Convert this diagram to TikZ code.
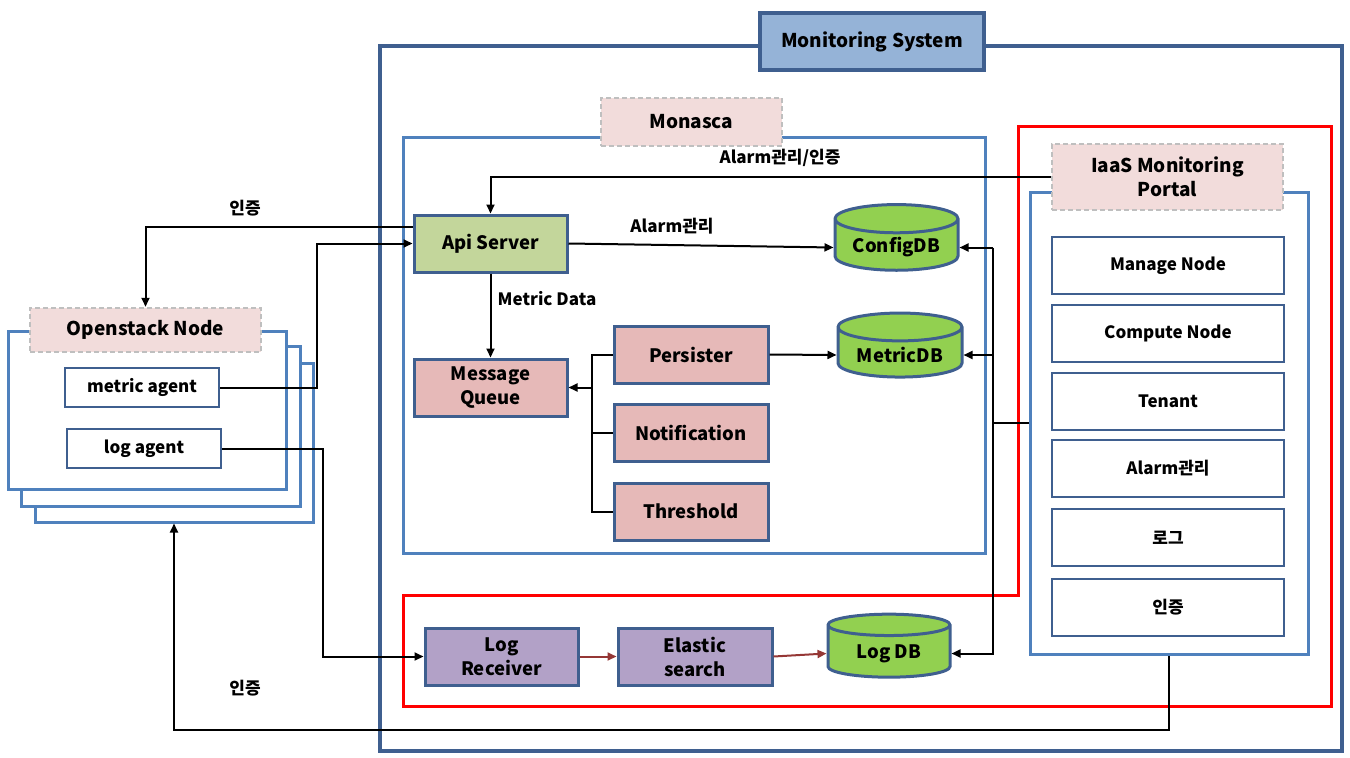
\documentclass[tikz,border=0pt]{standalone}
\usepackage{fontspec}
\setmainfont{Noto Sans CJK KR}
\usetikzlibrary{shapes.geometric,arrows.meta}

\definecolor{frame}{HTML}{3F5F8F}
\definecolor{panel}{HTML}{4F81BD}
\definecolor{titlefill}{HTML}{95B3D7}
\definecolor{tagfill}{HTML}{F2DCDB}
\definecolor{tagline}{HTML}{BFBFBF}
\definecolor{apifill}{HTML}{C3D69B}
\definecolor{mqfill}{HTML}{E6B9B8}
\definecolor{logfill}{HTML}{B2A1C7}
\definecolor{dbfill}{HTML}{92D050}
\definecolor{logarrow}{HTML}{953735}

\newcommand{\bigtxt}{\fontsize{19}{22}\selectfont\bfseries}
\newcommand{\midtxt}{\fontsize{18.5}{21}\selectfont\bfseries}
\newcommand{\smalltxt}{\fontsize{17}{20}\selectfont\bfseries}

\begin{document}
\begin{tikzpicture}[x=1pt,y=-1pt,
    panelbox/.style={draw=panel, line width=3pt, inner sep=0pt},
    tag/.style={draw=tagline, dash pattern=on 5pt off 3pt, line width=2.5pt, fill=tagfill, align=center, font=\bigtxt},
    comp/.style={draw=frame, line width=3pt, minimum width=153pt, minimum height=57pt, align=center, font=\midtxt},
    item/.style={draw=frame, line width=2.2pt, fill=white, minimum width=232pt, minimum height=57pt, font=\smalltxt},
    agent/.style={draw=frame, line width=2.2pt, fill=white, minimum width=154pt, minimum height=39pt, font=\smalltxt},
    db/.style={cylinder, shape border rotate=90, aspect=0.3, draw=frame, line width=3pt,
      cylinder uses custom fill, cylinder body fill=dbfill, cylinder end fill=dbfill, font=\midtxt},
    link/.style={-{Triangle[length=9pt,width=8pt]}, line width=2pt},
    flow/.style={-{Triangle[length=9pt,width=8pt]}, line width=2pt, draw=logarrow}]

  \useasboundingbox (0,0) rectangle (1350,758);

  % panels
  \node[draw=frame, line width=3.5pt, minimum width=962pt, minimum height=705pt] (mon) at (861,398.5) {};
  \node[panelbox, minimum width=582pt, minimum height=416pt] (monasca) at (694,345) {};
  \node[panelbox, minimum width=278pt, minimum height=462pt] (portal) at (1169,423) {};
  \node[panelbox, fill=white, minimum width=278pt, minimum height=159pt] (os3) at (174,442.5) {};
  \node[panelbox, fill=white, minimum width=279pt, minimum height=160pt] (os2) at (160.5,426) {};
  \node[panelbox, fill=white, minimum width=278pt, minimum height=158pt] (os1) at (147,410) {};
  \draw[red, line width=3pt] (1018,126) -- (1331,126) -- (1331,706) -- (403,706)
    -- (403,595) -- (1018,595) -- cycle;

  % titles
  \node[draw=frame, line width=3.5pt, fill=titlefill, minimum width=224pt, minimum height=57pt, font=\bigtxt] (montag) at (872,41.5) {Monitoring System};
  \node[tag, minimum width=181pt, minimum height=48pt] (montag2) at (691.5,122) {Monasca};
  \node[tag, minimum width=231pt, minimum height=66pt, inner sep=0pt] (ptag) at (1167.5,177) {IaaS Monitoring\\[2pt]Portal};
  \node[tag, minimum width=231pt, minimum height=44pt] (ostag) at (145.5,330) {Openstack Node};

  % openstack agents
  \node[agent] (magent) at (142,387.5) {metric agent};
  \node[agent] (lagent) at (144,448.5) {log agent};

  % monasca parts
  \node[comp, fill=apifill] (api) at (490.5,243.5) {Api Server};
  \node[comp, fill=mqfill] (mq) at (490.5,387.5) {Message\\[3pt]Queue};
  \node[comp, fill=mqfill, minimum width=154pt] (pers) at (691,354.5) {Persister};
  \node[comp, fill=mqfill, minimum width=154pt] (notif) at (691,432.5) {Notification};
  \node[comp, fill=mqfill, minimum width=154pt] (thr) at (691,511.5) {Threshold};
  \node[db, minimum width=123pt, minimum height=65pt] (cfgdb) at (896.5,247.5) {ConfigDB};
  \node[db, minimum width=124pt, minimum height=64pt] (mdb) at (900,355) {MetricDB};

  % log parts
  \node[comp, fill=logfill] (logrx) at (501.5,656.5) {Log\\[3pt]Receiver};
  \node[comp, fill=logfill, minimum width=154pt] (elastic) at (695,656.5) {Elastic\\[3pt]search};
  \node[db, minimum width=122pt, minimum height=63pt] (logdb) at (889,653.5) {Log DB};

  % portal menu
  \node[item] (mnode) at (1168,265.5) {Manage Node};
  \node[item] (cnode) at (1168,333.5) {Compute Node};
  \node[item] (tenant) at (1168,401.5) {Tenant};
  \node[item] (alarm) at (1168,468.5) {Alarm관리};
  \node[item] (plog) at (1168,537.5) {로그};
  \node[item] (pauth) at (1168,607.5) {인증};

  % labels
  \begin{scope}[every node/.style={font=\smalltxt}]
    \node (auth1) at (245,208) {인증};
    \node (auth2) at (245,688) {인증};
    \node (alarmauth) at (780,158) {Alarm관리/인증};
    \node (alarmmgmt) at (672,226) {Alarm관리};
    \node (mdata) at (547,299) {Metric Data};
  \end{scope}

  % connectors
  \coordinate (bus) at (592,0);
  \coordinate (rail) at (993,0);
  \draw[link] ([yshift=17pt]api.west) -| (ostag.north);
  \draw[link] (magent.east) -- ++(97,0) |- (api.west);
  \draw[link] (ptag.west) -| (api.north);
  \draw[link] (api.east) -- (cfgdb.west);
  \draw[link] (api.south) -- (mq.north);
  \draw[line width=2pt] (pers.west) -| (bus |- thr.west) -- (thr.west);
  \draw[line width=2pt] (notif.west) -- (bus |- notif.west);
  \draw[link] (bus |- mq.east) -- (mq.east);
  \draw[link] (pers.east) -- (mdb.west);
  \draw[line width=2pt] (portal.west) -- (rail |- portal.west);
  \draw[link] (rail |- cfgdb.east) -- (cfgdb.east);
  \draw[link] (rail |- cfgdb.east) |- (logdb.east);
  \draw[link] (rail |- mdb.east) -- (mdb.east);
  \draw[link] (lagent.east) -- ++(101,0) |- (logrx.west);
  \draw[flow] (logrx.east) -- (elastic.west);
  \draw[flow] (elastic.east) -- (logdb.west);
  \draw[link] (portal.south) -- ++(0,74) -| (os3.south);

\end{tikzpicture}
\end{document}
